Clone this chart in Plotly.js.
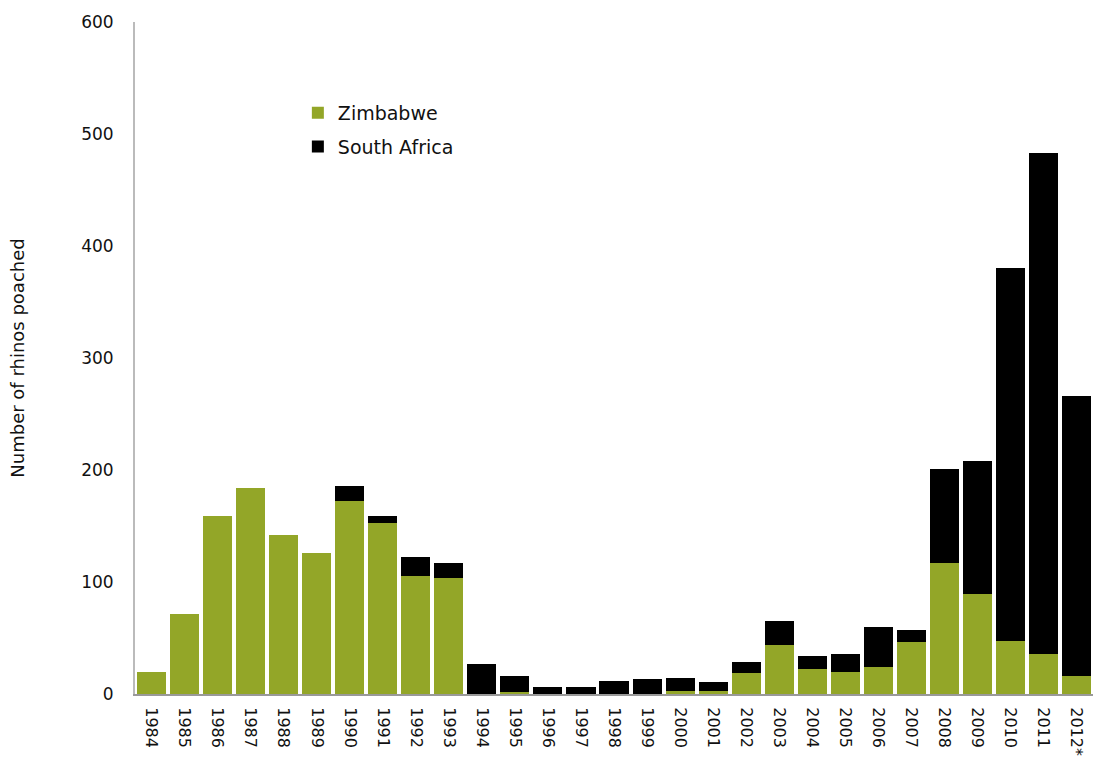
<!DOCTYPE html>
<html>
<head>
<meta charset="utf-8">
<script src="https://cdn.plot.ly/plotly-3.0.1.min.js"></script>
<style>html,body{margin:0;padding:0;background:#fff;}#chart{width:1095px;height:764px;}</style>
</head>
<body>
<div id="chart"></div>
<script>
const years = ["1984","1985","1986","1987","1988","1989","1990","1991","1992","1993","1994","1995","1996","1997","1998","1999","2000","2001","2002","2003","2004","2005","2006","2007","2008","2009","2010","2011","2012*"];
const zimbabwe = [20,71,159,184,142,126,172,153,105,104,0,2,0,0,0,0,3,3,19,44,22,20,24,46,117,89,47,36,16];
const southAfrica = [0,0,0,0,0,0,14,6,17,13,27,14,6,6,12,13,11,8,10,21,12,16,36,11,84,119,333,447,250];

const font = "DejaVu Sans, sans-serif";
const data = [
  {type:"bar", name:"Zimbabwe", legendgroup:"z", x:years, y:zimbabwe, marker:{color:"#93a628"}},
  {type:"bar", name:"South Africa", legendgroup:"s", x:years, y:southAfrica, marker:{color:"#000000"}}
];
const layout = {
  width:1095, height:764,
  margin:{l:135, r:2, t:22, b:70},
  barmode:"stack", bargap:0.12,
  paper_bgcolor:"#fff", plot_bgcolor:"#fff",
  font:{family:font, color:"#111", size:16},
  showlegend:true,
  legend:{x:0.17, y:0.893, xanchor:"left", yanchor:"top", traceorder:"grouped", tracegroupgap:6,
          font:{family:font, size:19, color:"#111"}, bgcolor:"rgba(0,0,0,0)", itemwidth:30},
  xaxis:{type:"category", tickangle:90, showline:true, linecolor:"#999", linewidth:2,
         ticks:"", ticklabelstandoff:8, tickfont:{family:font, size:16, color:"#111"}, showgrid:false, zeroline:false},
  yaxis:{range:[0,600], dtick:100, showline:true, linecolor:"#bbb", linewidth:2, ticks:"",
         showgrid:false, zeroline:false, ticklabelstandoff:16,
         tickfont:{family:font, size:17, color:"#111"},
         title:{text:"Number of rhinos poached", font:{family:font, size:18, color:"#111"}, standoff:52}}
};
Plotly.newPlot("chart", data, layout, {displayModeBar:false, staticPlot:true});
</script>
</body>
</html>
